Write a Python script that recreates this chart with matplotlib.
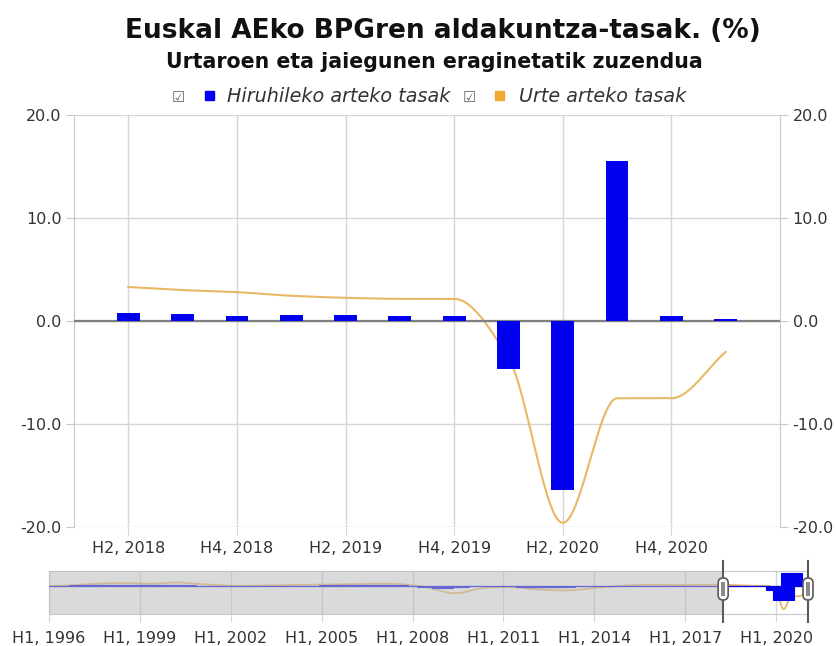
import numpy as np
import matplotlib
matplotlib.use("Agg")
import matplotlib.pyplot as plt
from matplotlib.patches import FancyBboxPatch, Rectangle
from matplotlib.transforms import IdentityTransform

# ---------------- data ----------------
categories = ["H2, 2018", "H3, 2018", "H4, 2018", "H1, 2019", "H2, 2019", "H3, 2019",
              "H4, 2019", "H1, 2020", "H2, 2020", "H3, 2020", "H4, 2020", "H1, 2021"]
quarterly = [0.75, 0.65, 0.45, 0.55, 0.55, 0.45, 0.5, -4.65, -16.4, 15.5, 0.45, 0.15]
yearly = [3.3, 3.0, 2.8, 2.45, 2.25, 2.15, 2.15, -3.6, -19.6, -7.5, -7.5, -3.0]

# navigator history 1996Q1 .. 2018Q1
hist_quarterly = [0.5, 0.6, 0.7, 0.8, 1.0, 1.1, 1.1, 1.1, 1.2, 1.2, 1.1, 1.1,
                  1.0, 1.0, 1.1, 1.3, 1.5, 1.3, 0.9, 0.7, 0.8, 0.8, 0.6, 0.5,
                  0.4, 0.6, 0.6, 0.6, 0.6, 0.6, 0.7, 0.7, 0.7, 0.7, 0.8, 0.8,
                  0.8, 0.9, 0.9, 0.9, 1.0, 1.0, 1.0, 1.0, 1.1, 1.0, 0.9, 0.6,
                  0.4, 0.1, -0.4, -1.2, -1.6, -1.2, -0.4, 0.2, 0.2, 0.3, 0.3, 0.2,
                  0.3, 0.1, 0.0, -0.4, -0.6, -0.5, -0.4, -0.5, -0.5, -0.3, 0.0, 0.2,
                  0.3, 0.5, 0.6, 0.6, 0.8, 0.8, 0.8, 0.7, 0.7, 0.7, 0.7, 0.7,
                  0.7, 0.8, 0.8, 0.8, 0.7]
hist_yearly = [2.0, 2.2, 2.4, 2.7, 3.2, 3.7, 4.1, 4.4, 4.6, 4.7, 4.8, 4.7,
               4.4, 4.2, 4.3, 4.6, 5.2, 5.4, 5.0, 4.4, 3.8, 3.4, 3.0, 2.6,
               2.2, 2.1, 2.3, 2.4, 2.5, 2.6, 2.7, 2.8, 2.9, 3.0, 3.1, 3.2,
               3.3, 3.4, 3.5, 3.6, 3.8, 4.0, 4.1, 4.2, 4.3, 4.2, 4.0, 3.5,
               2.8, 2.0, 0.8, -1.0, -3.0, -4.5, -4.6, -3.5, -1.5, -0.3, 0.5, 0.8,
               1.2, 1.0, 0.6, -0.2, -0.8, -1.3, -1.7, -2.0, -2.1, -1.8, -1.3, -0.6,
               0.2, 0.9, 1.5, 2.0, 2.5, 2.8, 3.0, 3.1, 3.1, 3.0, 2.9, 2.9,
               2.9, 3.0, 3.0, 3.1, 3.2]
nav_start_year = 1996
nav_tick_years = [1996, 1999, 2002, 2005, 2008, 2011, 2014, 2017, 2020]
nav_tick_labels = ["H1, %d" % y for y in nav_tick_years]
yticks = [-20, -10, 0, 10, 20]

title = "Euskal AEko BPGren aldakuntza-tasak. (%)"
subtitle = "Urtaroen eta jaiegunen eraginetatik zuzendua"
legend_labels = ["Hiruhileko arteko tasak", "Urte arteko tasak"]

BLUE = "#0000EE"
TAN = "#E8B865"
LEG_ORANGE = "#F0A830"
GRID = "#D6D6D6"
TXT = "#333333"


def pchip(x, y, n=30):
    x = np.asarray(x, float)
    y = np.asarray(y, float)
    h = np.diff(x)
    d = np.diff(y) / h
    m = np.zeros_like(y)
    m[0] = d[0]
    m[-1] = d[-1]
    for k in range(1, len(y) - 1):
        if d[k - 1] * d[k] <= 0:
            m[k] = 0.0
        else:
            w1 = 2 * h[k] + h[k - 1]
            w2 = h[k] + 2 * h[k - 1]
            m[k] = (w1 + w2) / (w1 / d[k - 1] + w2 / d[k])
    xs, ys = [], []
    for k in range(len(x) - 1):
        t = np.linspace(0, 1, n, endpoint=(k == len(x) - 2))
        h00 = 2 * t**3 - 3 * t**2 + 1
        h10 = t**3 - 2 * t**2 + t
        h01 = -2 * t**3 + 3 * t**2
        h11 = t**3 - t**2
        xs.append(x[k] + t * h[k])
        ys.append(h00 * y[k] + h10 * h[k] * m[k] + h01 * y[k + 1] + h11 * h[k] * m[k + 1])
    return np.concatenate(xs), np.concatenate(ys)


W, H = 836, 646
fig = plt.figure(figsize=(W / 100, H / 100), dpi=100)
plt.rcParams['font.family'] = ['DejaVu Sans']

# ---------------- main axes ----------------
L, R, T, B = 74, 780, 115, 527
ax = fig.add_axes([L / W, 1 - B / H, (R - L) / W, (B - T) / H])
x = np.arange(len(categories))
xs, ys = pchip(x, yearly)
ax.plot(xs, ys, color=TAN, lw=1.5, zorder=3)
ax.bar(x, quarterly, width=0.42, color=BLUE, zorder=4)
ax.axhline(0, color="#7F7F7F", lw=1.6, zorder=3.5)

ax.set_xlim(-1, len(categories))
ax.set_ylim(-20, 20)
ax.set_yticks(yticks)
ax.set_yticklabels(["%.1f" % v for v in yticks])
ax.set_xticks(x[::2])
ax.set_xticklabels(categories[::2])
ax.grid(True, color=GRID, lw=1, zorder=0)
for s in ["top", "bottom"]:
    ax.spines[s].set_visible(False)
for s in ["left", "right"]:
    ax.spines[s].set_color("#C8C8C8")
ax.tick_params(axis="y", left=True, right=True, labelleft=True, labelright=True,
               length=6, color="#C8C8C8", labelsize=11.5, labelcolor=TXT, pad=3)
ax.tick_params(axis="x", length=6, color=GRID, labelsize=11.5, labelcolor=TXT, pad=4)

# ---------------- titles / legend ----------------
fig.text(443 / W, 1 - 31 / H, title, ha="center", va="center", fontsize=19,
         fontweight="bold", color="#111111")
fig.text(434 / W, 1 - 62 / H, subtitle, ha="center", va="center", fontsize=14.8,
         fontweight="bold", color="#111111")
ly = 1 - 96 / H
fig.text(172 / W, ly - 1 / H, "\u2611", ha="left", va="center", fontsize=10.5, color="#666666")
fig.add_artist(Rectangle((205 / W, ly - 4.5 / H), 9 / W, 9 / H, transform=fig.transFigure,
                         color=BLUE))
fig.text(227 / W, ly, legend_labels[0], ha="left", va="center", fontsize=13.8,
         style="italic", color=TXT)
fig.text(463 / W, ly - 1 / H, "\u2611", ha="left", va="center", fontsize=10.5, color="#666666")
fig.add_artist(Rectangle((495 / W, ly - 4.5 / H), 9 / W, 9 / H, transform=fig.transFigure,
                         color=LEG_ORANGE))
fig.text(519 / W, ly, legend_labels[1], ha="left", va="center", fontsize=13.8,
         style="italic", color=TXT)

# ---------------- navigator ----------------
all_q = hist_quarterly + quarterly
all_y = hist_yearly + yearly
nx = nav_start_year + 0.25 * np.arange(len(all_q))
NL, NR, NT, NB = 49, 808, 571, 614
axn = fig.add_axes([NL / W, 1 - NB / H, (NR - NL) / W, (NB - NT) / H])
axn.set_facecolor("white")
axn.set_xlim(nav_start_year, nx[-1] + 0.05)
axn.set_ylim(-24, 16)
axn.set_yticks([])
axn.set_xticks(nav_tick_years)
axn.set_xticklabels(nav_tick_labels)
axn.grid(True, axis="x", color=GRID, lw=1, zorder=1)
nxs, nys = pchip(nx, all_y, n=8)
axn.plot(nxs, nys, color=TAN, lw=1.3, zorder=3)
for s in axn.spines.values():
    s.set_color("#C8C8C8")
axn.tick_params(axis="x", length=6, color=GRID, labelsize=11.5, labelcolor=TXT, pad=6)

axb = axn.twinx()
axb.bar(nx, all_q, width=0.7, color=BLUE, edgecolor=BLUE, lw=0.8, zorder=2)
axb.set_ylim(-33, 18)
axb.set_xlim(nav_start_year, nx[-1] + 0.05)
axb.set_yticks([])
for s in axb.spines.values():
    s.set_visible(False)
sel_start = nav_start_year + 0.25 * len(hist_quarterly)
axb.axvspan(nav_start_year, sel_start, color="#BDBDBD", alpha=0.55, zorder=5, lw=0)

fig.canvas.draw()
for hx in [sel_start, nx[-1] + 0.05]:
    px = axn.transData.transform((hx, 0))[0]
    fig.add_artist(plt.Line2D([px, px], [H - 622, H - 561], transform=IdentityTransform(),
                              color="#5A5A5A", lw=1.5, zorder=10))
    fig.add_artist(FancyBboxPatch((px - 5, H - 600), 10, 22,
                                  boxstyle="round,pad=0,rounding_size=5",
                                  transform=IdentityTransform(), facecolor="white",
                                  edgecolor="#5A5A5A", lw=1.2, zorder=11))
    fig.add_artist(Rectangle((px - 2, H - 596), 4, 14, transform=IdentityTransform(),
                             facecolor="#8A8A8A", edgecolor="none", zorder=12))

fig.savefig("out.png", dpi=100)
